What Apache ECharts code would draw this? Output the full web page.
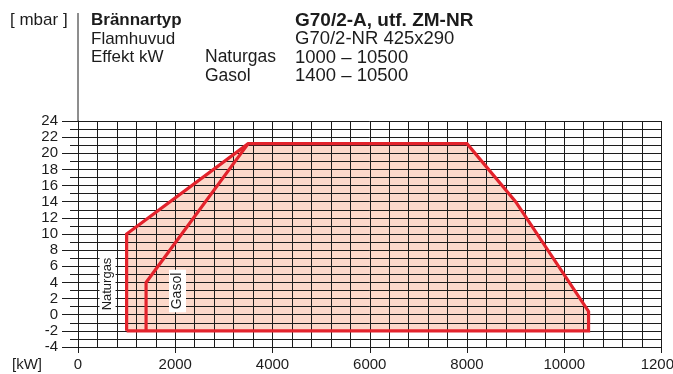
<!DOCTYPE html>
<html>
<head>
<meta charset="utf-8">
<script src="https://cdn.jsdelivr.net/npm/echarts@6/dist/echarts.min.js"></script>
<style>
html,body{margin:0;padding:0;background:#fff;}
#c{width:673px;height:374px;}
</style>
</head>
<body>
<div id="c"></div>
<script>
// ---- data ----
const xMin = 0, xMax = 12000, xStep = 2000;
const yMin = -4, yMax = 24, yStep = 2;
// Naturgas working range (outer, filled)
const natX = [1000, 1000, 3500, 8000, 9000, 10500, 10500, 1000];
const natY = [-2, 10, 21.2, 21.2, 14, 0.4, -2, -2];
// Gasol start boundary
const gasX = [1400, 1400, 3500];
const gasY = [-2, 4, 21.2];
// header texts
const headLabels = ['Brännartyp', 'Flamhuvud', 'Effekt kW', ''];
const headFuel = ['', '', 'Naturgas', 'Gasol'];
const headValues = ['G70/2-A, utf. ZM-NR', 'G70/2-NR 425x290', '1000 – 10500', '1400 – 10500'];

const FONT = "'Liberation Sans', Arial, Helvetica, sans-serif";
const INK = '#1c1c1c';
const RED = '#e3232c';

const chart = echarts.init(document.getElementById('c'), null, {renderer: 'canvas'});

const rowY = [20.5, 39, 57.5, 76];
const graphics = [];
graphics.push({type: 'text', x: 10, y: rowY[0], style: {text: '[ mbar ]', font: '17px ' + FONT, fill: INK, textVerticalAlign: 'middle', verticalAlign: 'middle'}});
for (let i = 0; i < 4; i++) {
  graphics.push({type: 'text', x: 91, y: rowY[i], style: {text: headLabels[i], font: (i === 0 ? 'bold ' : '') + '17px ' + FONT, fill: INK, textVerticalAlign: 'middle', verticalAlign: 'middle'}});
  graphics.push({type: 'text', x: 205, y: rowY[i], style: {text: headFuel[i], font: '17.5px ' + FONT, fill: INK, textVerticalAlign: 'middle', verticalAlign: 'middle'}});
  graphics.push({type: 'text', x: 295, y: rowY[i], style: {text: headValues[i], font: (i === 0 ? 'bold 19px ' : '18.5px ') + FONT, fill: INK, textVerticalAlign: 'middle', verticalAlign: 'middle'}});
}
graphics.push({type: 'line', shape: {x1: 78, y1: 13, x2: 78, y2: 121}, style: {stroke: INK, lineWidth: 1}});
graphics.push({type: 'text', x: 12, y: 365, style: {text: '[kW]', font: '15px ' + FONT, fill: INK, textVerticalAlign: 'middle', verticalAlign: 'middle'}});
graphics.push({type: 'text', x: 107.5, y: 284, rotation: Math.PI / 2, z: 100,
  style: {text: 'Naturgas', font: '13px ' + FONT, fill: INK, backgroundColor: '#fff', padding: [2, 3, 1, 3],
    textAlign: 'center', align: 'center', textVerticalAlign: 'middle', verticalAlign: 'middle'}});
graphics.push({type: 'text', x: 177.5, y: 291, rotation: Math.PI / 2, z: 100,
  style: {text: 'Gasol', font: '14px ' + FONT, fill: INK, backgroundColor: '#fff', padding: [2, 3, 1, 3],
    textAlign: 'center', align: 'center', textVerticalAlign: 'middle', verticalAlign: 'middle'}});

const gridLine = {show: true, lineStyle: {color: INK, width: 1}};

chart.setOption({
  animation: false,
  backgroundColor: '#fff',
  grid: {left: 78, right: 11.5, top: 121, bottom: 27, containLabel: false, outerBoundsMode: 'none'},
  xAxis: {
    type: 'value', min: xMin, max: xMax, interval: xStep,
    axisLine: {show: true, onZero: false, lineStyle: {color: INK, width: 1}},
    axisTick: {show: true, length: 6, lineStyle: {color: INK, width: 1}},
    minorTick: {show: false, splitNumber: 5},
    splitLine: gridLine,
    minorSplitLine: gridLine,
    axisLabel: {fontFamily: FONT, fontSize: 15, color: INK, margin: 10, showMaxLabel: true, hideOverlap: false,
      formatter: function (v) { return String(v); }}
  },
  yAxis: {
    type: 'value', min: yMin, max: yMax, interval: yStep,
    axisLine: {show: true, onZero: false, lineStyle: {color: INK, width: 1}},
    axisTick: {show: true, length: 16, lineStyle: {color: INK, width: 1}},
    minorTick: {show: true, splitNumber: 2, length: 8, lineStyle: {color: INK, width: 1}},
    splitLine: gridLine,
    minorSplitLine: gridLine,
    axisLabel: {fontFamily: FONT, fontSize: 15, color: INK, margin: 20,
      formatter: function (v) { return String(v); }}
  },
  series: [
    {
      type: 'custom', z: -1, silent: true,
      data: [[natX[0], natY[0]]],
      renderItem: function (params, api) {
        const pts = natX.map((x, i) => api.coord([x, natY[i]]));
        return {type: 'polygon', shape: {points: pts}, style: {fill: '#fcd8ca'}};
      }
    },
    {
      type: 'line', data: natX.map((x, i) => [x, natY[i]]),
      symbol: 'none', lineStyle: {color: RED, width: 3.2, join: 'miter'}, z: 5
    },
    {
      type: 'line', data: gasX.map((x, i) => [x, gasY[i]]),
      symbol: 'none', lineStyle: {color: RED, width: 3.2}, z: 5
    }
  ],
  graphic: graphics
});
</script>
</body>
</html>
